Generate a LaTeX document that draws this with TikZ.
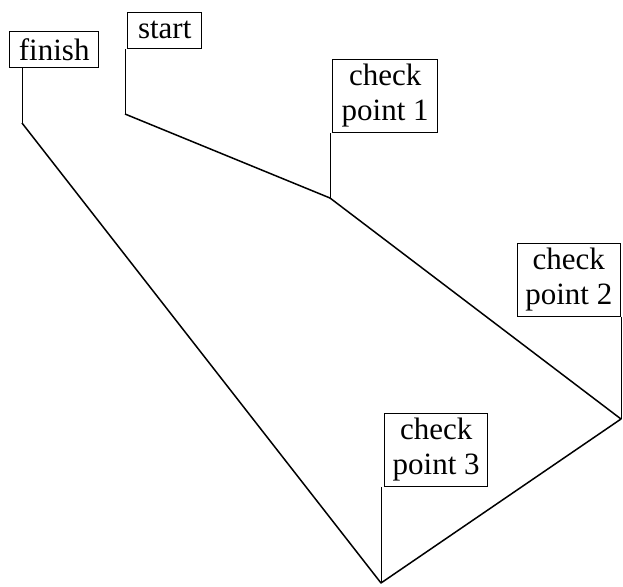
\documentclass[tikz,border=0pt]{standalone}
\usepackage{fontspec}
\setmainfont{Liberation Serif}
\usepackage{tikz}
\usetikzlibrary{positioning, calc}

\tikzset{
    flag/.style={draw, line width=0.7pt, inner xsep=4pt, inner ysep=2.5pt,
        minimum height=18pt, align=center,
        font=\fontsize{15.5}{17.5}\selectfont},
    pole/.style={line width=0.45pt},
    route/.style={line width=0.75pt, line join=round}
}

\begin{document}
\begin{tikzpicture}[x=0.5pt, y=-0.5pt]
    \useasboundingbox (0,0) rectangle (623,586);

    % Points on the route
    \coordinate (s) at (125,114);
    \coordinate (c1) at (330,198);
    \coordinate (c2) at (621,419);
    \coordinate (c3) at (381,583);
    \coordinate (f) at (22,123);

    % Flags
    \node[flag, anchor=south west, minimum width=44.5pt] (finish) at (9,68) {finish};
    \node[flag, anchor=south west, minimum width=37pt] (start) at (127,49) {start};
    \node[flag, anchor=south west, minimum width=52.5pt] (cpone) at (332,133) {check\\point 1};
    \node[flag, anchor=south east] (cptwo) at (621,317) {check\\point 2};
    \node[flag, anchor=south west] (cpthree) at (384,487) {check\\point 3};

    % Poles
    \draw[pole] (f) -- (f |- finish.south);
    \draw[pole] (s) -- (s |- start.south);
    \draw[pole] (c1) -- (c1 |- cpone.south);
    \draw[pole] (c2) -- (c2 |- cptwo.south);
    \draw[pole] (c3) -- (c3 |- cpthree.south);

    % Route
    \draw[route] (s) -- (c1) -- (c2) -- (c3) -- (f);
\end{tikzpicture}
\end{document}
